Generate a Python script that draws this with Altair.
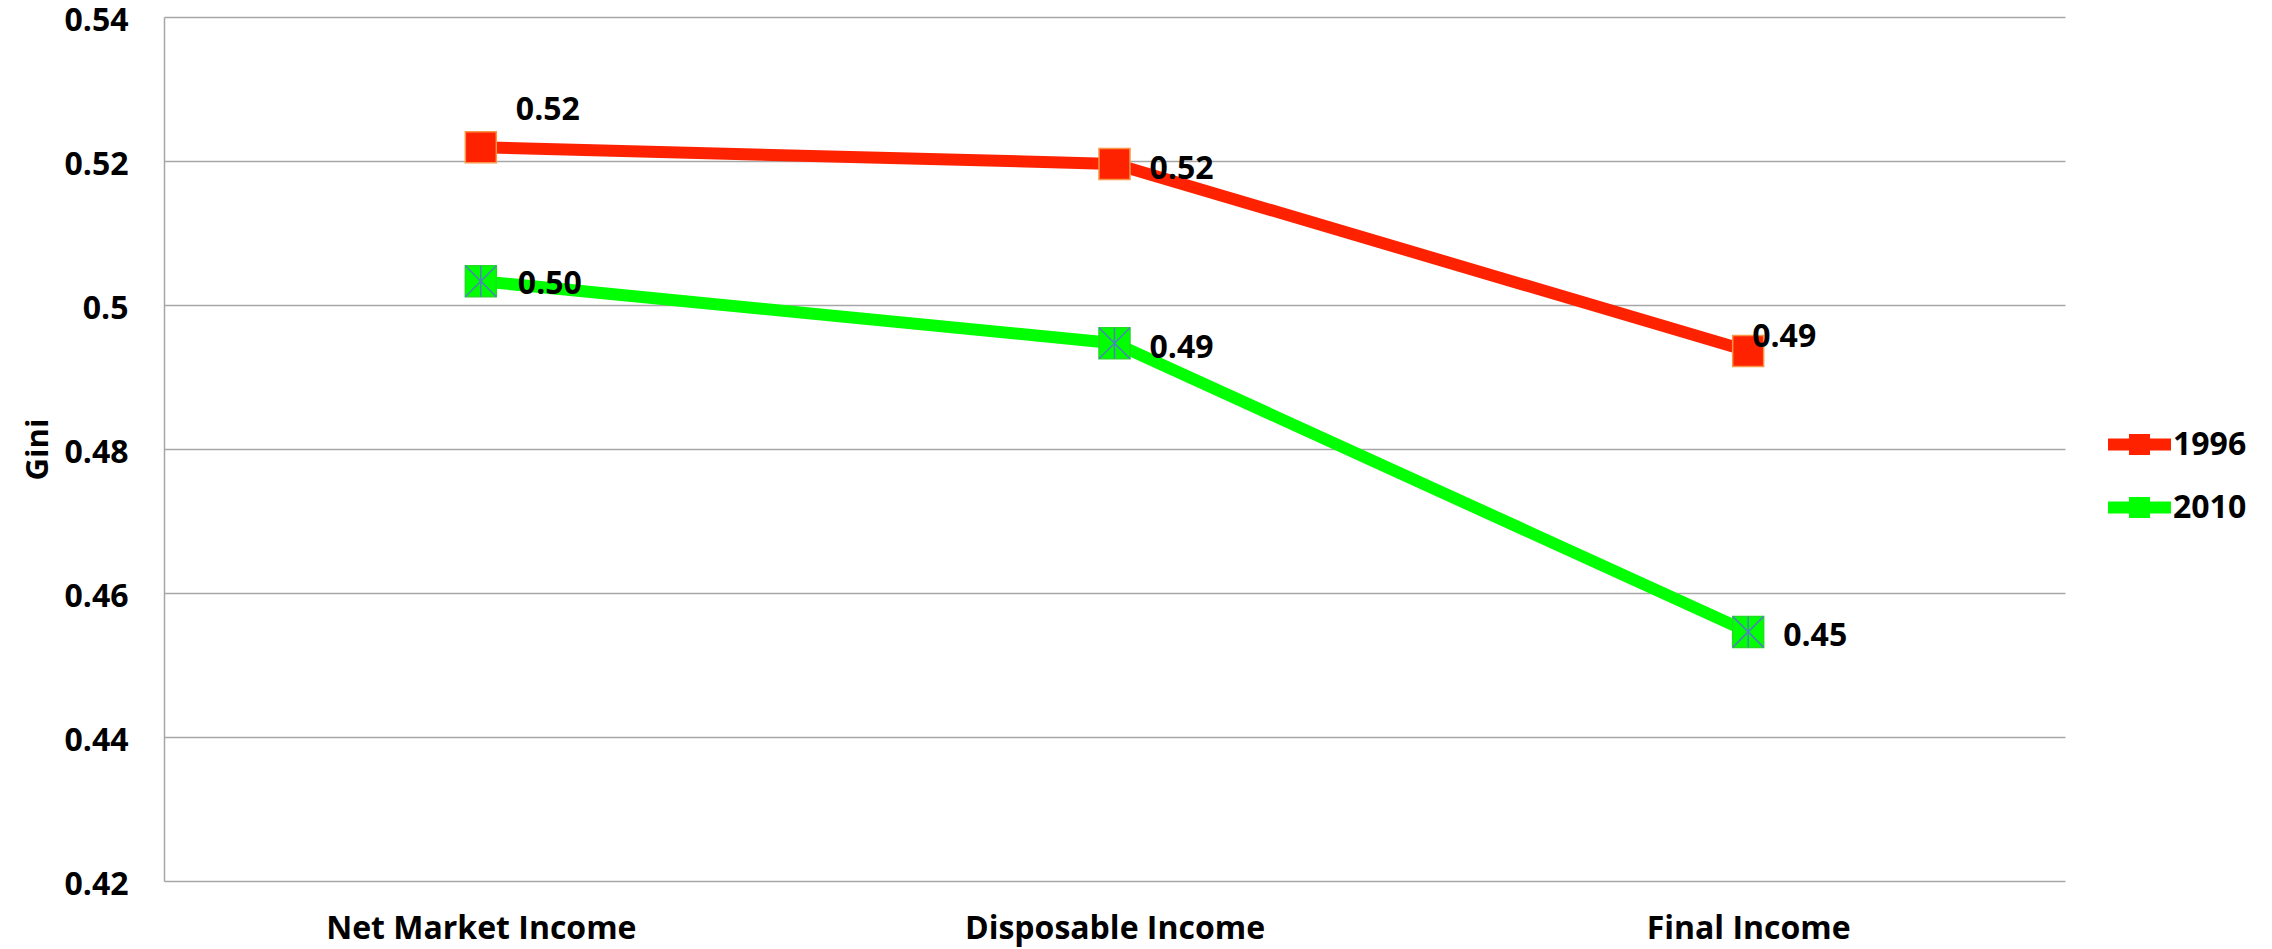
import altair as alt
import pandas as pd

categories = ["Net Market Income", "Disposable Income", "Final Income"]
years = ["1996", "2010"]
gini_1996 = [0.5219, 0.5196, 0.4936]
gini_2010 = [0.5033, 0.4947, 0.4546]
y_ticks = [0.42, 0.44, 0.46, 0.48, 0.50, 0.52, 0.54]
colors = ["#FF2200", "#00FF00"]

rows = []
for c, v in zip(categories, gini_1996):
    rows.append({"category": c, "year": "1996", "value": v})
for c, v in zip(categories, gini_2010):
    rows.append({"category": c, "year": "2010", "value": v})
df = pd.DataFrame(rows)

FONT = "Open Sans"

x_enc = alt.X(
    "category:N",
    sort=categories,
    scale=alt.Scale(type="point", padding=0.5),
    axis=alt.Axis(
        title=None, labelAngle=0, domain=False, ticks=False, grid=False,
        labelFont=FONT, labelFontSize=32, labelFontWeight="bold", labelColor="#000000",
        labelPadding=32, labelLimit=0,
    ),
)
y_enc = alt.Y(
    "value:Q",
    scale=alt.Scale(domain=[0.42, 0.54], nice=False, zero=False),
    axis=alt.Axis(
        title="Gini", values=y_ticks, format=".2~f", ticks=False,
        domain=True, domainColor="#A6A6A6", domainWidth=1.5,
        grid=True, gridColor="#A6A6A6", gridWidth=1.5,
        labelFont=FONT, labelFontSize=32, labelFontWeight="bold", labelColor="#000000",
        labelPadding=36, labelOffset=3,
        titleFont=FONT, titleFontSize=31, titleFontWeight="bold", titleColor="#000000",
        titleAngle=270, titleX=-126, titleY=432, titleAlign="center", titleBaseline="middle",
    ),
)

# legend symbol: thick line with a square marker in the middle (unit coords)
legend_path = ("M-1,-0.19L1,-0.19L1,0.19L-1,0.19Z"
               "M-0.333,-0.333L0.333,-0.333L0.333,0.333L-0.333,0.333Z")
fill_expr = "datum.value == '%s' ? '%s' : '%s'" % (years[0], colors[0], colors[1])

color_scale = alt.Scale(domain=years, range=colors)

base = alt.Chart(df)

lines = base.mark_line(strokeWidth=12).encode(
    x=x_enc, y=y_enc,
    color=alt.Color("year:N", scale=color_scale, title=None, legend=alt.Legend(
        orient="none", legendX=1944, legendY=396,
        symbolType=legend_path, symbolSize=3969, symbolStrokeWidth=0,
        symbolFillColor={"expr": fill_expr},
        labelFont=FONT, labelFontSize=32, labelFontWeight="bold", labelColor="#000000",
        labelOffset=2, rowPadding=15, padding=0,
    )),
)

squares96 = base.mark_point(shape="square", filled=True, size=961, opacity=1,
                            stroke="#F79646", strokeWidth=1.5).encode(
    x=x_enc, y=y_enc,
    color=alt.Color("year:N", scale=color_scale, legend=None),
).transform_filter(alt.datum.year == "1996")

squares10 = base.mark_point(shape="square", filled=True, size=961, opacity=1,
                            stroke="#22DD22", strokeWidth=1.5).encode(
    x=x_enc, y=y_enc,
    color=alt.Color("year:N", scale=color_scale, legend=None),
).transform_filter(alt.datum.year == "2010")

stars = base.mark_point(
    shape="M-1,-1L1,1M1,-1L-1,1M0,-1L0,1", filled=False, size=961,
    stroke="#4F81BD", strokeWidth=1.5, opacity=1,
).encode(x=x_enc, y=y_enc).transform_filter(alt.datum.year == "2010")


def labels(filter_expr, dx, dy):
    return base.mark_text(
        align="left", baseline="middle", dx=dx, dy=dy,
        font=FONT, fontSize=32, fontWeight="bold", color="#000000",
    ).encode(
        x=x_enc, y=y_enc, text=alt.Text("value:Q", format=".2f"),
    ).transform_filter(filter_expr)


lab1 = labels("datum.year == '1996' && datum.category == 'Net Market Income'", 35, -37)
lab2 = labels("datum.year == '2010' && datum.category == 'Net Market Income'", 37, 3)
lab3 = labels("datum.category == 'Disposable Income'", 35, 5)
lab4 = labels("datum.year == '1996' && datum.category == 'Final Income'", 4, -14)
lab5 = labels("datum.year == '2010' && datum.category == 'Final Income'", 35, 4)

chart = alt.layer(lines, squares96, squares10, stars, lab1, lab2, lab3, lab4, lab5).properties(
    width=1901, height=864,
    autosize=alt.AutoSizeParams(type="none"),
    padding={"left": 156, "top": 9, "right": 199, "bottom": 68},
).configure_view(stroke=None).resolve_scale(color="shared")

chart.save("out.html", embed_options={"renderer": "svg", "actions": False})
